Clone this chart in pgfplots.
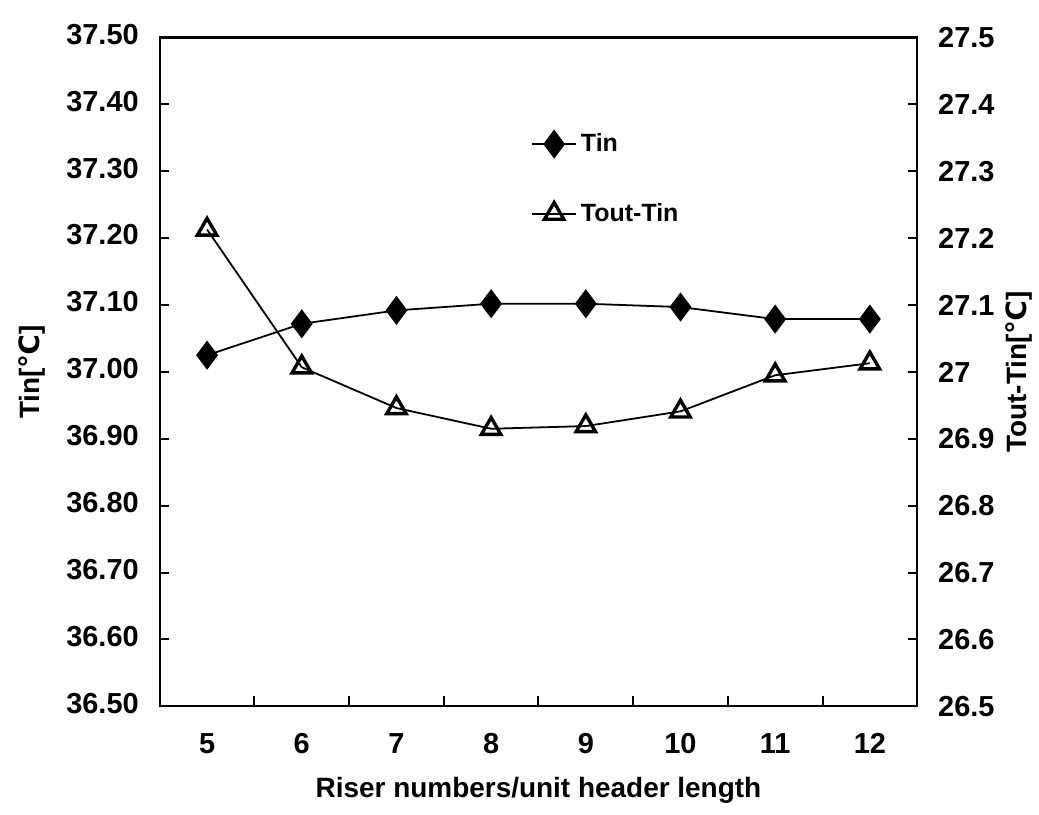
\documentclass[border={6pt 2.5pt 0pt 7pt}]{standalone}
\usepackage{pgfplots}
\pgfplotsset{compat=1.18}
\usepackage{fontspec}
\setmainfont{Liberation Sans}
\newfontfamily\degfont{DejaVu Sans}
\newcommand{\degC}{{\degfont\bfseries ℃}}
\newcommand{\tickfont}{\bfseries\fontsize{14.5}{17}\selectfont}
\newcommand{\labelfont}{\bfseries\fontsize{14}{17}\selectfont}

% Tin (left axis) and Tout-Tin (right axis) against riser numbers
\pgfplotstableread{
x  tin
5  37.025
6  37.072
7  37.092
8  37.102
9  37.102
10 37.097
11 37.079
12 37.079
}\tintable
\pgfplotstableread{
x  dt
5  27.213
6  27.007
7  26.946
8  26.915
9  26.919
10 26.941
11 26.995
12 27.013
}\dttable

\pgfplotsset{
  tinmark/.style={black, line width=0.9pt, mark=diamond*, mark size=6.8pt,
    mark options={solid, fill=black, line width=0.6pt}},
  dtmark/.style={black, line width=0.9pt, mark=triangle, mark size=5.6pt,
    mark options={solid, fill=white, line width=1.7pt}},
}

\begin{document}
\begin{tikzpicture}
\begin{axis}[
  scale only axis,
  width=379.5pt, height=335pt,
  xmin=4.5, xmax=12.5,
  ymin=36.5, ymax=37.5,
  axis line style={line width=1.2pt},
  xtick={5,6,7,8,9,10,11,12},
  minor xtick={5.5,6.5,7.5,8.5,9.5,10.5,11.5},
  xtick pos=bottom,
  major x tick style={draw=none},
  minor x tick style={black, line width=1pt},
  minor tick length=5pt,
  ytick={36.5,36.6,36.7,36.8,36.9,37.0,37.1,37.2,37.3,37.4,37.5},
  ytick pos=left,
  y tick style={black, line width=1pt},
  major tick length=4.5pt,
  tick align=inside,
  tick label style={font=\tickfont},
  label style={font=\labelfont},
  typeset ticklabels with strut,
  /pgf/number format/assume math mode=true,
  yticklabel style={/pgf/number format/fixed, /pgf/number format/fixed zerofill,
    /pgf/number format/precision=2, xshift=-7pt},
  xticklabel style={yshift=-8pt},
  xlabel={Riser numbers/unit header length},
  xlabel style={at={(axis description cs:0.5,0)}, anchor=center, yshift=-42pt},
  ylabel={Tin[\degC]},
  ylabel style={at={(axis description cs:0,0.5)}, anchor=center, yshift=64pt},
  legend style={draw=none, fill=none, at={(axis description cs:0.49,0.863)},
    anchor=north west, row sep=20.3pt, font=\bfseries\fontsize{12.5}{15}\selectfont,
    inner sep=0pt},
  legend cell align=left,
  legend image code/.code={
    \draw[#1, mark repeat=2, mark phase=2]
      plot coordinates {(0pt,0pt) (11pt,0pt) (22pt,0pt)};},
]
\addplot[tinmark] table[x=x, y=tin] {\tintable};
\addlegendentry{Tin}
\addlegendimage{dtmark}
\addlegendentry{Tout-Tin}
\end{axis}

\begin{axis}[
  scale only axis,
  width=379.5pt, height=335pt,
  xmin=4.5, xmax=12.5,
  ymin=26.5, ymax=27.5,
  axis x line=none,
  axis y line*=right,
  axis line style={line width=1.2pt},
  ytick={26.5,26.6,26.7,26.8,26.9,27.0,27.1,27.2,27.3,27.4,27.5},
  ytick pos=right,
  y tick style={black, line width=1pt},
  major tick length=4.5pt,
  tick align=inside,
  tick label style={font=\tickfont},
  label style={font=\labelfont},
  /pgf/number format/assume math mode=true,
  yticklabel style={/pgf/number format/fixed, /pgf/number format/precision=1,
    xshift=7pt},
  ylabel={Tout-Tin[\degC]},
  ylabel style={at={(axis description cs:1,0.5)}, anchor=center, yshift=-51pt},
]
\addplot[dtmark] table[x=x, y=dt] {\dttable};
\end{axis}
\end{tikzpicture}
\end{document}
